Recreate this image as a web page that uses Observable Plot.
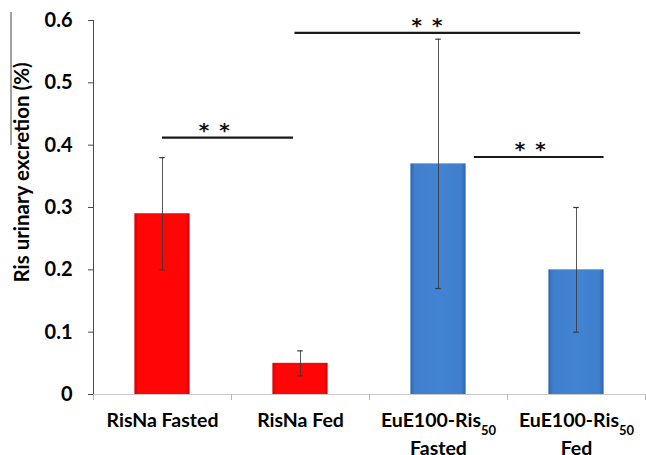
<!DOCTYPE html>
<html><head><meta charset="utf-8">
<script src="https://cdn.jsdelivr.net/npm/d3@7"></script>
<script src="https://cdn.jsdelivr.net/npm/@observablehq/plot@0.6"></script>
<style>
body{margin:0;background:#fff}
svg{display:block}
</style>
</head><body><div id="chart"></div>
<script>
// ---- data ----
const categories = ["RisNa Fasted", "RisNa Fed", "EuE100-Ris50\nFasted", "EuE100-Ris50\nFed"];
const formulation = ["RisNa", "RisNa", "EuE100", "EuE100"];
const means = [0.29, 0.05, 0.37, 0.20];
const errLow = [0.20, 0.03, 0.17, 0.10];
const errHigh = [0.38, 0.07, 0.57, 0.30];
const yTicks = [0, 0.1, 0.2, 0.3, 0.4, 0.5, 0.6];
// significance brackets (x in category-index units, y in data units)
const sigFrom = [0.0, 0.96, 2.26];
const sigTo = [0.95, 3.03, 3.20];
const sigLevel = [0.412, 0.580, 0.381];
const sigStarAt = [0.375, 1.916, 2.665];
const sigLabel = ["* *", "* *", "* *"];
const yLabel = "Ris urinary excretion (%)";

// ---- build tables ----
const bars = categories.map((c, i) => ({i, c, f: formulation[i], m: means[i], lo: errLow[i], hi: errHigh[i]}));
const sig = sigLevel.map((y, k) => ({x1: sigFrom[k], x2: sigTo[k], y, xs: sigStarAt[k], t: sigLabel[k].replace(" ", "\u2002")}));
const half = 0.2, cap = 0.02;
const font = "Lato, 'Open Sans', sans-serif";

const plot = Plot.plot({
  width: 646, height: 455,
  marginLeft: 93, marginRight: 1, marginTop: 20, marginBottom: 61,
  style: {fontFamily: font, background: "#fff", color: "#000"},
  x: {type: "linear", domain: [-0.5, 3.5]},
  y: {domain: [0, 0.6]},
  marks: [
    Plot.ruleY([0], {stroke: "#c8c8c8"}),
    Plot.axisX({ticks: [-0.5, 0.5, 1.5, 2.5, 3.5], tickSize: 6, tickFormat: () => "", stroke: "#b8b8b8", label: null}),
    Plot.axisX({ticks: [0, 1, 2, 3], tickSize: 0, tickPadding: 12, tickFormat: i => categories[i],
      fontSize: 19.5, fontWeight: "bold", lineHeight: 1.45, label: null}),
    Plot.rectY(bars.filter(d => d.f === "RisNa"), {x1: d => d.i - half, x2: d => d.i + half, y1: 0, y2: "m", fill: "url(#redGrad)"}),
    Plot.rectY(bars.filter(d => d.f === "EuE100"), {x1: d => d.i - half, x2: d => d.i + half, y1: 0, y2: "m", fill: "url(#blueGrad)"}),
    Plot.ruleX(bars, {x: "i", y1: "lo", y2: "hi", stroke: "#3a3a3a", strokeWidth: 1, strokeOpacity: 0.85}),
    Plot.ruleY(bars, {y: "lo", x1: d => d.i - cap, x2: d => d.i + cap, stroke: "#3a3a3a", strokeWidth: 1.2}),
    Plot.ruleY(bars, {y: "hi", x1: d => d.i - cap, x2: d => d.i + cap, stroke: "#3a3a3a", strokeWidth: 1.2}),
    Plot.ruleX([-0.5], {stroke: "#4a4a4a"}),
    Plot.axisY({ticks: yTicks, tickFormat: d => d === 0 ? "0" : d.toFixed(1), tickSize: 5, tickPadding: 16,
      fontSize: 20, fontWeight: "bold", stroke: "#4a4a4a", label: null}),
    Plot.ruleY(sig, {y: "y", x1: "x1", x2: "x2", stroke: "#1a1a1a", strokeWidth: 2.2}),
    Plot.text(sig, {x: "xs", y: "y", text: "t", fontSize: 20, fontWeight: "bold", fontFamily: "DejaVu Sans", dy: -7, fill: "#111"}),
    Plot.text([yLabel], {frameAnchor: "left", textAnchor: "middle", rotate: -90, dx: -71, dy: -35, fontSize: 20.5, fontWeight: 700, fill: "#000"})
  ]
});

// gradients for the bevelled bars
const ns = "http://www.w3.org/2000/svg";
const defs = document.createElementNS(ns, "defs");
defs.innerHTML = `
<linearGradient id="redGrad" x1="0" x2="1" y1="0" y2="0">
  <stop offset="0" stop-color="#d40000"/><stop offset="0.07" stop-color="#ff0505"/>
  <stop offset="0.93" stop-color="#ff0505"/><stop offset="1" stop-color="#d40000"/>
</linearGradient>
<linearGradient id="blueGrad" x1="0" x2="1" y1="0" y2="0">
  <stop offset="0" stop-color="#2d64ad"/><stop offset="0.08" stop-color="#3f7fce"/>
  <stop offset="0.5" stop-color="#4283d2"/>
  <stop offset="0.92" stop-color="#3f7fce"/><stop offset="1" stop-color="#2d64ad"/>
</linearGradient>`;
plot.insertBefore(defs, plot.firstChild);

// subscripts "50"
plot.querySelectorAll("text, tspan").forEach(el => {
  if (el.childElementCount === 0 && el.textContent === "EuE100-Ris50") {
    el.textContent = "EuE100-Ris";
    const sub = document.createElementNS(ns, "tspan");
    sub.textContent = "50";
    sub.setAttribute("baseline-shift", "sub");
    sub.setAttribute("font-size", "13");
    el.appendChild(sub);
  }
});

// stray vertical line at the top-left of the original figure
const stray = document.createElementNS(ns, "line");
stray.setAttribute("x1", 11); stray.setAttribute("x2", 11);
stray.setAttribute("y1", 12); stray.setAttribute("y2", 145);
stray.setAttribute("stroke", "#444"); stray.setAttribute("stroke-width", 1);
plot.appendChild(stray);

document.getElementById("chart").appendChild(plot);
</script>
</body></html>
